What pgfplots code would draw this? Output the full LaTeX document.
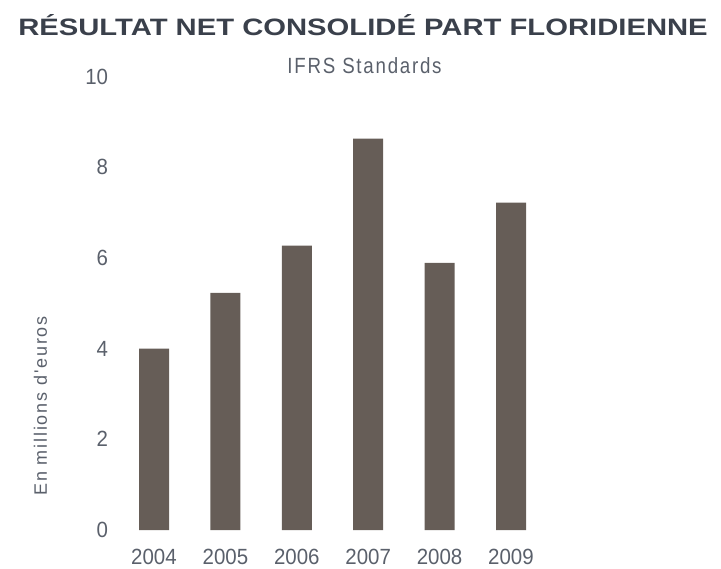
\documentclass[border=0pt]{standalone}
\usepackage{pgfplots}
\pgfplotsset{compat=1.18}
\usepackage{fontspec}
\setmainfont{Liberation Sans}
\newfontfamily\tickfont[FakeStretch=0.93]{Liberation Sans}
\newfontfamily\subfont[FakeStretch=0.85,LetterSpace=8]{Liberation Sans}
\newfontfamily\labfont[LetterSpace=10]{Liberation Sans}
\definecolor{barc}{HTML}{665D57}
\definecolor{titc}{HTML}{3A404B}
\definecolor{txtc}{HTML}{5A606B}
\begin{document}
\begin{tikzpicture}
\useasboundingbox (0,0) rectangle (721bp,-569bp);
\begin{axis}[
  at={(118.3bp,-530bp)}, anchor=south west,
  scale only axis, width=428.4bp, height=453.5bp,
  xmin=-0.5, xmax=5.5, ymin=0, ymax=10,
  axis line style={draw=none}, major tick length=0pt,
  xtick={0,1,2,3,4,5}, xticklabels={2004,2005,2006,2007,2008,2009},
  ytick={0,2,4,6,8,10},
  ticklabel style={font=\fontsize{22bp}{24bp}\tickfont, text=txtc},
  /pgf/number format/assume math mode=true,
  yticklabel style={inner sep=0pt, xshift=-10bp},
  xticklabel style={inner sep=0pt, yshift=-19bp},
  ybar, bar width=30bp,
  clip=false
]
\addplot[fill=barc, draw=none] coordinates {(0,4.0) (1,5.23) (2,6.27) (3,8.63) (4,5.89) (5,7.22)};
\end{axis}
\node[anchor=base, inner sep=0, text=titc] at (363bp,-35bp) {\scalebox{1.233}[1]{\fontsize{23.7bp}{26bp}\selectfont\bfseries RÉSULTAT NET CONSOLIDÉ PART FLORIDIENNE}};
\node[anchor=base, inner sep=0, text=txtc] at (364.5bp,-73.3bp) {\fontsize{22bp}{24bp}\subfont IFRS Standards};
\node[rotate=90, inner sep=0, text=txtc] at (40.5bp,-406bp) {\fontsize{18bp}{20bp}\labfont En millions d'euros};
\end{tikzpicture}
\end{document}
